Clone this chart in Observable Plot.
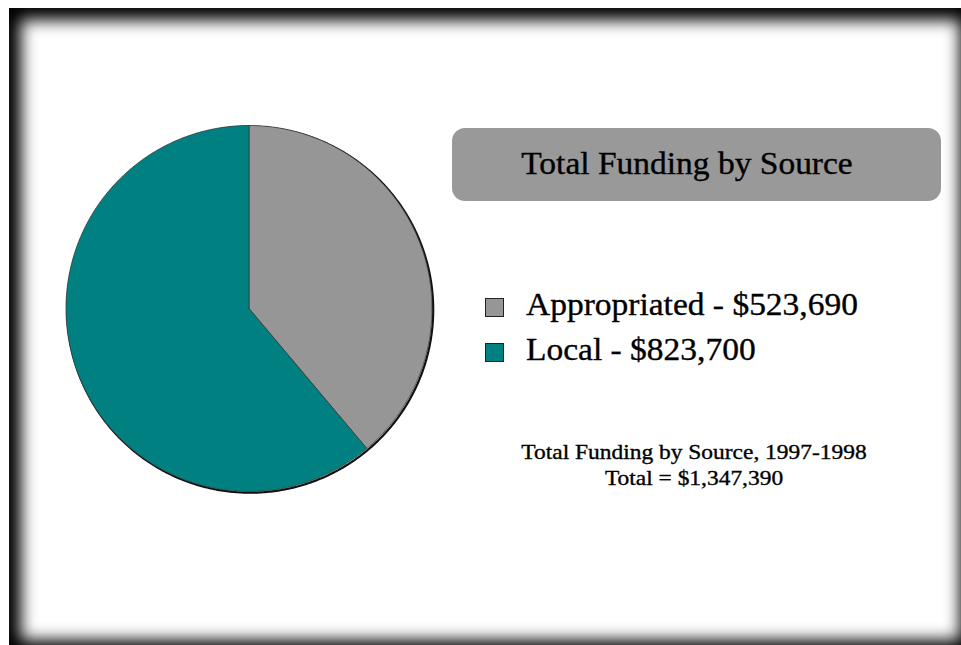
<!DOCTYPE html>
<html>
<head>
<meta charset="utf-8">
<script src="https://cdn.jsdelivr.net/npm/d3@7"></script>
<script src="https://cdn.jsdelivr.net/npm/@observablehq/plot@0.6"></script>
<style>
  html, body { margin: 0; padding: 0; background: #fff; width: 961px; height: 645px; overflow: hidden; position: relative; }
  .frame { position: absolute; left: 9px; top: 8px; width: 963px; height: 644px; background: #fff;
           box-shadow: inset 0 0 16px 12px #000; }
  #chart { position: absolute; left: 0; top: 0; }
  .txt { position: absolute; font-family: "Liberation Serif", "Times New Roman", serif; color: #000; white-space: nowrap;
         -webkit-text-stroke: 0.35px #000; }
  .titlebox { position: absolute; left: 452px; top: 128px; width: 489px; height: 73px; background: #999; border-radius: 13px; }
  .sw { position: absolute; width: 17px; height: 17px; border: 1px solid #222; }
</style>
</head>
<body>
<div class="frame"></div>
<div id="chart"></div>
<div class="titlebox"></div>
<div id="overlay"></div>
<script>
const categories = ["Appropriated", "Local"];
const values = [523690, 823700];
const colors = ["#969696", "#008080"];
const titleText = "Total Funding by Source";
const captionTitle = "Total Funding by Source, 1997-1998";

const fmt = d3.format(",");
const total = d3.sum(values);
const data = categories.map((name, i) => ({name, value: values[i]}));

// Pie geometry from the data
const arcs = d3.pie().sort(null).value(d => d.value)(data);
const pts = [];
for (const a of arcs) {
  const n = Math.max(2, Math.ceil((a.endAngle - a.startAngle) / 0.01));
  pts.push({name: a.data.name, u: 0, v: 0});
  for (let k = 0; k <= n; k++) {
    const t = a.startAngle + (a.endAngle - a.startAngle) * k / n;
    pts.push({name: a.data.name, u: Math.sin(t), v: Math.cos(t)});
  }
  pts.push({name: a.data.name, u: 0, v: 0});
}
const ring = d3.range(0, 2 * Math.PI + 0.01, 0.01).map(t => ({u: Math.sin(t), v: Math.cos(t)}));

const plot = Plot.plot({
  width: 480,
  height: 645,
  margin: 0,
  style: {background: "transparent"},
  x: {domain: [-1, 1], range: [65.5, 431.5], axis: null},
  y: {domain: [-1, 1], range: [491, 125], axis: null},
  color: {domain: categories, range: colors},
  marks: [
    Plot.line(ring, {x: "u", y: "v", stroke: "#111", strokeWidth: 2.2, dx: 1.2, dy: 1.2}),
    Plot.line(pts, {x: "u", y: "v", z: "name", fill: "name", stroke: "#3a3a3a", strokeWidth: 0.8, strokeLinejoin: "round"})
  ]
});
document.getElementById("chart").appendChild(plot);

// Text overlays (baseline-positioned)
const overlay = document.getElementById("overlay");
function addText(str, {size, baseline, left, center, scale = 1.12}) {
  const d = document.createElement("div");
  d.className = "txt";
  d.textContent = str;
  d.style.fontSize = size + "px";
  d.style.lineHeight = size + "px";
  d.style.top = (baseline - size / 2 - 0.3375 * size) + "px";
  if (center !== undefined) {
    d.style.left = (center - 400) + "px";
    d.style.width = "800px";
    d.style.textAlign = "center";
    d.style.transformOrigin = "50% 50%";
  } else {
    d.style.left = left + "px";
    d.style.transformOrigin = "0 50%";
  }
  d.style.transform = `scaleX(${scale})`;
  overlay.appendChild(d);
}

addText(titleText, {size: 31, baseline: 173.5, center: 686.5, scale: 1.08});

data.forEach((d, i) => {
  const sw = document.createElement("div");
  sw.className = "sw";
  sw.style.left = "485px";
  sw.style.top = (298 + i * 45) + "px";
  sw.style.background = colors[i];
  overlay.appendChild(sw);
  addText(`${d.name} - $${fmt(d.value)}`, {size: 31, baseline: 315 + i * 44.5, left: 526, scale: 1.08});
});

addText(captionTitle, {size: 21.5, baseline: 460, center: 694, scale: 1.09});
addText(`Total = $${fmt(total)}`, {size: 21.5, baseline: 486.5, center: 694, scale: 1.09});
</script>
</body>
</html>
